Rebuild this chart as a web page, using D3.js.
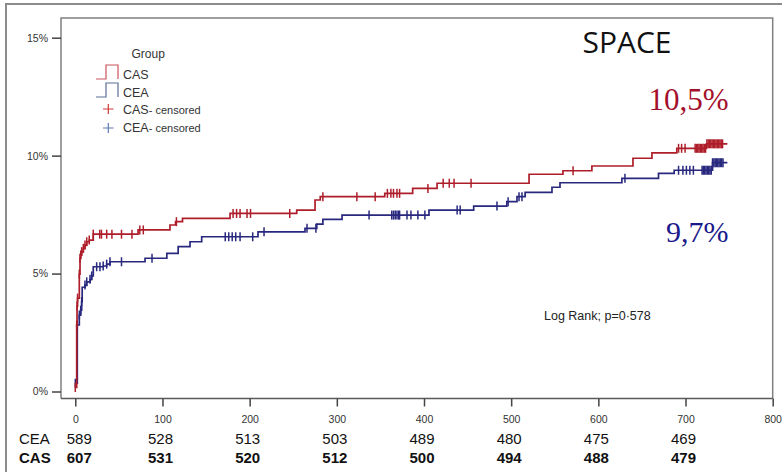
<!DOCTYPE html>
<html>
<head>
<meta charset="utf-8">
<script src="https://cdn.jsdelivr.net/npm/d3@7"></script>
<style>
  html, body { margin: 0; padding: 0; background: #fff; }
  svg { display: block; }
</style>
</head>
<body>
<svg id="chart" width="782" height="472"></svg>
<script>
// Cumulative incidence (1 - KM), in percent, by days of follow-up.
// Each pair: [day, cumulative % reached at that day]
const casEvents = [
  [0, 0.17], [1.6, 2.82], [2.0, 3.62], [2.6, 3.96], [4.6, 4.98], [5.4, 5.65],
  [6.2, 5.79], [7.3, 5.93], [9.2, 6.07], [11.1, 6.21], [13.1, 6.35], [16, 6.42],
  [20.6, 6.67], [72, 6.85], [108.6, 7.06], [115, 7.2], [123, 7.34], [177.5, 7.55],
  [254, 7.69], [275, 8.12], [281, 8.26], [355, 8.40], [387, 8.61], [415, 8.83],
  [520.5, 9.21], [559.4, 9.36], [592.6, 9.56], [639.7, 9.89], [661.5, 10.12],
  [690, 10.31], [724, 10.5]
];
const ceaEvents = [
  [0, 0.35], [2.3, 2.82], [4.6, 3.24], [6.2, 3.45], [7.3, 3.81], [7.9, 4.42],
  [11.1, 4.51], [13.1, 4.65], [16.9, 4.76], [18.8, 4.9], [20.6, 5.29], [32, 5.32],
  [36, 5.40], [39.8, 5.5], [80, 5.65], [105, 5.86], [118, 6.14], [131.6, 6.35],
  [145, 6.56], [209.6, 6.77], [263.5, 6.92], [277, 7.10], [284, 7.30], [306, 7.48],
  [405.7, 7.69], [457, 7.86], [495, 8.05], [506.7, 8.26], [516, 8.44], [546.8, 8.66],
  [556, 8.85], [627, 9.04], [669, 9.25], [687, 9.38], [731, 9.7]
];
const lastDay = 748;

// Censoring times (days)
const casCensored = [
  0, 1.6, 2.0, 2.6, 4.6, 5.4, 6.2, 7.3, 9.2, 11.1, 13.1, 16, 20.6,
  28, 30, 36, 42, 53, 65, 74, 78, 116, 181, 185, 189, 197, 201, 246,
  284, 323, 344, 358, 362, 365, 369, 372, 404.5, 422, 429, 434.5, 454, 571,
  692, 695.5, 699.5, 711, 712.5, 714, 715.5, 717, 718.5, 720, 721.5, 723,
  724.5, 726, 727.5, 729, 730.5, 732, 733.5, 735, 736.5, 738, 739.5, 741, 742.5
];
const ceaCensored = [
  0, 2.3, 4.6, 6.2, 7.3, 11.1, 13.1, 16.9, 18.8, 24.5, 28.3, 32, 36, 39.8,
  53, 88, 172, 176, 180, 184, 189, 203.5, 216.5, 265.8, 276, 337, 363, 365,
  367, 369, 371, 372, 380.5, 385, 393, 401, 438, 441.5, 483.7, 496.5, 509,
  512.4, 630.5, 692, 697, 701, 705, 709, 719, 720.5, 722, 723.5, 725, 726.5,
  728, 729.5, 731, 732.5, 734, 735.5, 737, 738.5, 740, 741.5, 743
];

// Numbers at risk
const riskDays = [0, 100, 200, 300, 400, 500, 600, 700];
const ceaRisk = [589, 528, 513, 503, 489, 480, 475, 469];
const casRisk = [607, 531, 520, 512, 500, 494, 488, 479];

const xTicks = [0, 100, 200, 300, 400, 500, 600, 700, 800];
const yTicks = [0, 5, 10, 15];

const casColor = "#AE1E2A";
const ceaColor = "#28287F";

const svg = d3.select("#chart");

const x = d3.scaleLinear().domain([0, 800]).range([75.3, 772.7]);
const y = d3.scaleLinear().domain([0, 15]).range([391.5, 37.7]);

// outer frame
svg.append("rect")
  .attr("x", 6).attr("y", 4).attr("width", 800).attr("height", 500)
  .attr("fill", "none").attr("stroke", "#8c8c8c").attr("stroke-width", 2);

// plot frame
const plotL = 61, plotT = 18, plotR = 772.7, plotB = 398.5;
svg.append("path")
  .attr("d", `M${plotL},${plotB}V${plotT}H${plotR}V${plotB}`)
  .attr("fill", "none").attr("stroke", "#808080").attr("stroke-width", 1.5);
svg.append("line")
  .attr("x1", plotL).attr("x2", plotR).attr("y1", plotB).attr("y2", plotB)
  .attr("stroke", "#5a5a5a").attr("stroke-width", 1.6);

// x axis
const xAxis = d3.axisBottom(x).tickValues(xTicks).tickSize(8).tickPadding(9)
  .tickFormat(d3.format("d"));
const gx = svg.append("g").attr("transform", `translate(0,${plotB})`).call(xAxis);
gx.select(".domain").remove();
gx.selectAll(".tick line").attr("stroke", "#444").attr("stroke-width", 1.5);
gx.selectAll(".tick text").attr("fill", "#333")
  .style("font-family", "'Liberation Sans', Arial, sans-serif").style("font-size", "10.5px");

// y axis
const yAxis = d3.axisLeft(y).tickValues(yTicks).tickSize(9).tickPadding(4)
  .tickFormat(d => d + "%");
const gy = svg.append("g").attr("transform", `translate(${plotL},0)`).call(yAxis);
gy.select(".domain").remove();
gy.selectAll(".tick line").attr("stroke", "#444").attr("stroke-width", 1.5);
gy.selectAll(".tick text").attr("fill", "#333")
  .style("font-family", "'Liberation Sans', Arial, sans-serif").style("font-size", "10.5px");

// curves
function stepValue(events, day) {
  let v = events[0][1];
  for (const e of events) { if (e[0] <= day) v = e[1]; else break; }
  return v;
}
const line = d3.line().x(d => x(d[0])).y(d => y(d[1])).curve(d3.curveStepAfter);

function drawGroup(events, censored, color) {
  const pts = events.concat([[lastDay, events[events.length - 1][1]]]);
  svg.append("path").datum(pts)
    .attr("d", line).attr("fill", "none")
    .attr("stroke", color).attr("stroke-width", 1.7);
  svg.append("g").selectAll("line").data(censored).join("line")
    .attr("x1", d => x(d)).attr("x2", d => x(d))
    .attr("y1", d => y(stepValue(events, d)) - 4.5)
    .attr("y2", d => y(stepValue(events, d)) + 4.5)
    .attr("stroke", color).attr("stroke-width", 1.5);
}
drawGroup(ceaEvents, ceaCensored, ceaColor);
drawGroup(casEvents, casCensored, casColor);

// legend
const sans = "'Liberation Sans', Arial, sans-serif";
const lg = svg.append("g").style("font-family", sans).attr("fill", "#333");
lg.append("text").attr("x", 131.5).attr("y", 57.5).style("font-size", "12px").text("Group");
const iconRows = [
  { top: 65, bottom: 79, color: "#C8545A", label: "CAS", base: 78.5 },
  { top: 83, bottom: 97, color: "#5A6E96", label: "CEA", base: 96.5 }
];
iconRows.forEach(r => {
  lg.append("path")
    .attr("d", `M96,${r.bottom}H106V${r.top}H118V${r.bottom}`)
    .attr("fill", "none").attr("stroke", r.color).attr("stroke-width", 1.2);
  lg.append("text").attr("x", 123).attr("y", r.base).style("font-size", "12.5px").text(r.label);
});
const censRows = [
  { cy: 109, color: "#D03A3A", label: "CAS", base: 114 },
  { cy: 128, color: "#5A7AB0", label: "CEA", base: 132 }
];
censRows.forEach(r => {
  lg.append("path")
    .attr("d", `M103,${r.cy}H113.5M108.3,${r.cy - 5}V${r.cy + 5}`)
    .attr("stroke", r.color).attr("stroke-width", 1.2);
  const t = lg.append("text").attr("x", 123).attr("y", r.base).style("font-size", "12.5px");
  t.append("tspan").text(r.label);
  t.append("tspan").style("font-size", "11px").text("- censored");
});

// title and annotations
svg.append("text").attr("x", 627).attr("y", 53.3).attr("text-anchor", "middle")
  .style("font-family", "'Open Sans', sans-serif").style("font-size", "30px")
  .attr("fill", "#111").text("SPACE");
svg.append("text").attr("x", 728.5).attr("y", 110).attr("text-anchor", "end")
  .style("font-family", "'Liberation Serif', 'Times New Roman', serif").style("font-size", "31px")
  .attr("fill", "#A3102C").text("10,5%");
svg.append("text").attr("x", 728.5).attr("y", 241.7).attr("text-anchor", "end")
  .style("font-family", "'Liberation Serif', 'Times New Roman', serif").style("font-size", "30px")
  .attr("fill", "#1A1A8C").text("9,7%");
svg.append("text").attr("x", 544).attr("y", 320).style("font-family", sans)
  .style("font-size", "12.5px").attr("fill", "#222").text("Log Rank; p=0·578");

// numbers at risk
const riskRows = [
  { name: "CEA", values: ceaRisk, base: 444, weight: "normal" },
  { name: "CAS", values: casRisk, base: 463.3, weight: "bold" }
];
riskRows.forEach(r => {
  const g = svg.append("g").style("font-family", sans).style("font-size", "15px")
    .style("font-weight", r.weight).attr("fill", "#111");
  g.append("text").attr("x", 19).attr("y", r.base).text(r.name);
  g.selectAll("text.n").data(riskDays).join("text").attr("class", "n")
    .attr("x", d => d === 0 ? x(d) + 4 : x(d) - 2)
    .attr("y", r.base).attr("text-anchor", "middle")
    .text((d, i) => r.values[i]);
});
</script>
</body>
</html>
